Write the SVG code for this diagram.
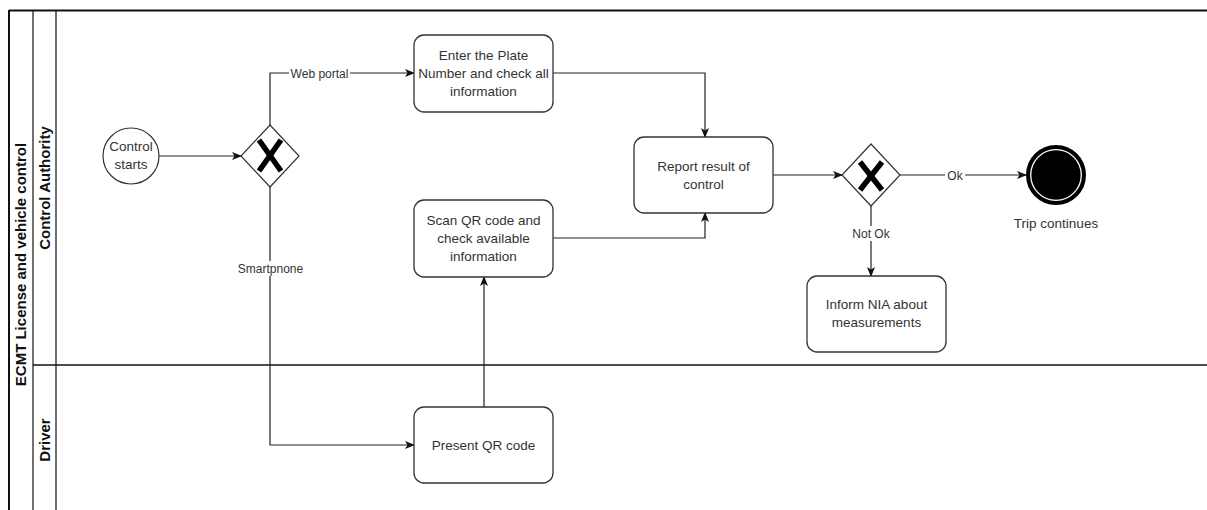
<svg xmlns="http://www.w3.org/2000/svg" width="1207" height="510" viewBox="0 0 1207 510">
  <style>
    .pool { fill: none; stroke: #111; }
    .lane-title { font-family: "Liberation Sans", Arial, sans-serif; font-size: 15px; font-weight: bold; fill: #111; text-anchor: middle; }
    .task { fill: #fff; stroke: #333; stroke-width: 1.3; }
    .label { font-family: "Liberation Sans", Arial, sans-serif; font-size: 13.5px; fill: #333; text-anchor: middle; }
    .edge { fill: none; stroke: #222; stroke-width: 1.2; }
    .edge-label { font-family: "Liberation Sans", Arial, sans-serif; font-size: 12px; fill: #333; text-anchor: middle; }
    .edge-bg { fill: #fff; }
    .gw { fill: #fff; stroke: #333; stroke-width: 1.2; }
    .gw-x { stroke: #000; stroke-width: 5.5; stroke-linecap: butt; }
  </style>
  <defs>
    <marker id="arrow" viewBox="0 0 10 8" refX="9" refY="4" markerWidth="10" markerHeight="8" markerUnits="userSpaceOnUse" orient="auto">
      <path d="M0,0 L10,4 L0,8 L2.5,4 Z" fill="#111"/>
    </marker>
  </defs>

  <rect width="1207" height="510" fill="#fff"/>

  <!-- Pool and lanes -->
  <g id="pool">
    <line class="pool" x1="9" y1="10.5" x2="1207" y2="10.5" stroke-width="2"/>
    <line class="pool" x1="9" y1="10" x2="9" y2="510" stroke-width="2"/>
    <line class="pool" x1="33" y1="10" x2="33" y2="510" stroke-width="1.2"/>
    <line class="pool" x1="56" y1="10" x2="56" y2="510" stroke-width="1.2"/>
    <line class="pool" x1="33" y1="365" x2="1207" y2="365" stroke-width="1.5"/>
    <text class="lane-title" transform="translate(26,264.5) rotate(-90)">ECMT License and vehicle control</text>
  </g>
  <g id="lane-control-authority">
    <text class="lane-title" transform="translate(49.5,188) rotate(-90)">Control Authority</text>
  </g>
  <g id="lane-driver">
    <text class="lane-title" transform="translate(49.5,440) rotate(-90)">Driver</text>
  </g>

  <!-- Connectors -->
  <g id="connectors">
    <path class="edge" d="M159,156 H241" marker-end="url(#arrow)"/>
    <path class="edge" d="M270,125 V73 H414" marker-end="url(#arrow)"/>
    <path class="edge" d="M270,187 V445 H414" marker-end="url(#arrow)"/>
    <path class="edge" d="M484,407 V277" marker-end="url(#arrow)"/>
    <path class="edge" d="M553,73 H705 V137" marker-end="url(#arrow)"/>
    <path class="edge" d="M553,238 H705 V213" marker-end="url(#arrow)"/>
    <path class="edge" d="M773,175 H842" marker-end="url(#arrow)"/>
    <path class="edge" d="M899,175 H1026" marker-end="url(#arrow)"/>
    <path class="edge" d="M871,206 V276" marker-end="url(#arrow)"/>

    <rect class="edge-bg" x="289" y="66" width="61" height="15"/>
    <text class="edge-label" x="319.5" y="78">Web portal</text>
    <rect class="edge-bg" x="237" y="261" width="67" height="15"/>
    <text class="edge-label" x="270.5" y="272.5">Smartpnone</text>
    <rect class="edge-bg" x="945" y="168" width="20" height="15"/>
    <text class="edge-label" x="955" y="179.5">Ok</text>
    <rect class="edge-bg" x="850" y="226" width="42" height="15"/>
    <text class="edge-label" x="871" y="237.5">Not Ok</text>
  </g>

  <!-- Start event -->
  <g id="start">
    <circle cx="131" cy="156" r="28" fill="#fff" stroke="#333" stroke-width="1.2"/>
    <text class="label"><tspan x="131" y="151">Control</tspan><tspan x="131" y="169">starts</tspan></text>
  </g>

  <!-- Gateway after start -->
  <g id="gateway-channel">
    <polygon class="gw" points="270,125 299,156 270,187 241,156"/>
    <line class="gw-x" x1="259" y1="140" x2="281" y2="171"/>
    <line class="gw-x" x1="281" y1="140" x2="259" y2="171"/>
  </g>

  <g id="task-plate">
    <rect class="task" x="414" y="35" width="139" height="77" rx="10"/>
    <text class="label"><tspan x="483.5" y="59.5">Enter the Plate</tspan><tspan x="483.5" y="78">Number and check all</tspan><tspan x="483.5" y="96.3">information</tspan></text>
  </g>

  <g id="task-scan">
    <rect class="task" x="414" y="200" width="139" height="77" rx="10"/>
    <text class="label"><tspan x="483.5" y="224.7">Scan QR code and</tspan><tspan x="483.5" y="243">check available</tspan><tspan x="483.5" y="261.3">information</tspan></text>
  </g>

  <g id="task-present">
    <rect class="task" x="414" y="407" width="139" height="76" rx="10"/>
    <text class="label" x="483.5" y="449.7">Present QR code</text>
  </g>

  <g id="task-report">
    <rect class="task" x="634" y="137" width="139" height="76" rx="10"/>
    <text class="label"><tspan x="703.5" y="170.7">Report result of</tspan><tspan x="703.5" y="189">control</tspan></text>
  </g>

  <!-- Gateway on the control result -->
  <g id="gateway-result">
    <polygon class="gw" points="871,144 900,175 871,206 842,175"/>
    <line class="gw-x" x1="860" y1="162" x2="882" y2="190"/>
    <line class="gw-x" x1="882" y1="162" x2="860" y2="190"/>
  </g>

  <g id="task-inform">
    <rect class="task" x="807" y="276" width="139" height="76" rx="10"/>
    <text class="label"><tspan x="876.5" y="309">Inform NIA about</tspan><tspan x="876.5" y="327.3">measurements</tspan></text>
  </g>

  <!-- End event -->
  <g id="end">
    <circle cx="1056" cy="175" r="28" fill="#000" stroke="#000" stroke-width="4"/>
    <circle cx="1056" cy="175" r="25.3" fill="none" stroke="#fff" stroke-width="1.3"/>
    <text class="label" x="1056" y="227.5">Trip continues</text>
  </g>
</svg>
